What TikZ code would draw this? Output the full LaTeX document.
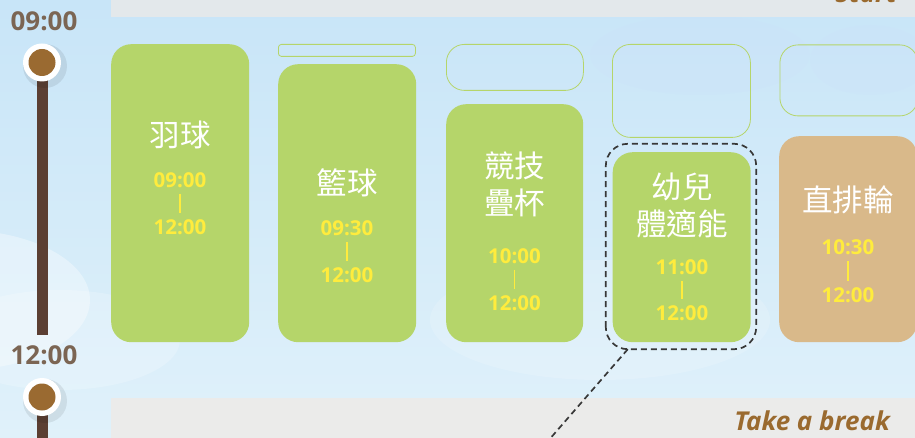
\documentclass[tikz,border=0pt]{standalone}
\usepackage{fontspec}
\setmainfont{Open Sans}
\newfontfamily\cjk{Noto Sans CJK TC}
\usetikzlibrary{calc}
\definecolor{grn}{HTML}{B5D56A}
\definecolor{tan}{HTML}{D9B98A}
\definecolor{tmyel}{HTML}{FFEC3D}
\definecolor{tlbar}{HTML}{5B3F33}
\definecolor{tldot}{HTML}{9A6A31}
\definecolor{tltext}{HTML}{7B6553}
\definecolor{brk}{HTML}{9A6A2F}
\definecolor{skytop}{HTML}{C8E5F8}
\definecolor{skybot}{HTML}{E0F1FA}
\begin{document}
\begin{tikzpicture}[x=1pt,y=-1pt,
  fillbox/.style={fill=grn, draw=none, rounded corners=20pt, inner sep=0pt, minimum width=138pt, anchor=north west},
  outbox/.style={draw=grn, line width=0.8pt, fill=none, rounded corners=18pt, inner sep=0pt, minimum width=137pt, anchor=north west},
  ttl/.style={font=\cjk\fontsize{30.5}{37}\selectfont, text=white, align=center, inner sep=0pt},
  tm/.style={font=\bfseries\fontsize{20.5}{20}\selectfont, text=tmyel, inner xsep=2pt, inner ysep=6pt},
  tbar/.style={draw=tmyel, line width=1.1pt},
  tl/.style={draw=tlbar, line width=11pt},
  dotw/.style={circle, fill=white, minimum size=38pt, inner sep=0pt},
  dotb/.style={circle, fill=tldot, minimum size=27pt, inner sep=0pt},
  tltxt/.style={font=\bfseries\fontsize{26}{26}\selectfont, text=tltext, inner sep=0pt},
  brktxt/.style={font=\bfseries\itshape\fontsize{26}{26}\selectfont, text=brk, inner sep=0pt},
  conn/.style={draw=black!78, line width=1.7pt, dash pattern=on 6pt off 4pt}]
\useasboundingbox (0,0) rectangle (915,438);
% background
\shade[top color=skytop, bottom color=skybot] (0,0) rectangle (915,438);
\begin{scope}
\clip (0,0) rectangle (915,438);
\fill[white, opacity=0.35] (-40,300) ellipse [x radius=130pt, y radius=70pt];
\fill[white, opacity=0.2] (60,340) ellipse [x radius=120pt, y radius=50pt];
\fill[white, opacity=0.15] (600,320) ellipse [x radius=170pt, y radius=60pt];
\fill[white, opacity=0.12] (520,250) ellipse [x radius=60pt, y radius=60pt];
\fill[skytop!85!blue!60, opacity=0.12] (700,55) ellipse [x radius=110pt, y radius=40pt];
\fill[skytop!85!blue!60, opacity=0.1] (870,60) ellipse [x radius=60pt, y radius=35pt];
% bands
\fill[fill={rgb,255:red,227;green,232;blue,235}] (111,0) rectangle (915,16.7);
\fill[fill={rgb,255:red,235;green,235;blue,234}] (111,398) rectangle (915,438);
\node[brktxt, anchor=base east] (start) at (897,3) {Start};
\end{scope}
\node[brktxt, anchor=base east] (brk) at (890,430) {Take a break};
% timeline
\coordinate (p1) at (42,62.5);
\coordinate (p2) at (42,397);
\coordinate (pe) at (42,335);
\coordinate (pb) at (42,440);
\draw[tl] (p1) -- (pe);
\draw[tl] (p2) -- (pb);
\fill[black, opacity=0.08] (45,66) circle (22pt);
\fill[black, opacity=0.08] (45,401) circle (22pt);
\node[dotw] (c1w) at (p1) {};
\node[dotb] (c1) at (p1) {};
\node[dotw] (c2w) at (p2) {};
\node[dotb] (c2) at (p2) {};
\node[tltxt] (l1) at (44,21) {09:00};
\node[tltxt] (l2) at (44,355) {12:00};
% column 1
\node[fillbox, minimum height=298pt] (b1) at (111,44) {};
\node[ttl] (n1) at (180,135) {羽球};
\node[tm] (t1a) at (180,180) {09:00};
\node[tm] (t1b) at (180,227) {12:00};
\draw[tbar] (t1a) -- (t1b);
% column 2
\node[outbox, rounded corners=3pt, minimum height=12pt] (o2) at (278,44) {};
\node[fillbox, minimum height=278pt] (b2) at (278,64) {};
\node[ttl] (n2) at (347,183) {籃球};
\node[tm] (t2a) at (347,228) {09:30};
\node[tm] (t2b) at (347,275) {12:00};
\draw[tbar] (t2a) -- (t2b);
% column 3
\node[outbox, minimum height=46pt] (o3) at (446,44) {};
\node[fillbox, minimum height=238pt, minimum width=137pt] (b3) at (446,104) {};
\node[ttl] (n3) at (514.5,184) {競技\\疊杯};
\node[tm] (t3a) at (514.5,256) {10:00};
\node[tm] (t3b) at (514.5,303) {12:00};
\draw[tbar] (t3a) -- (t3b);
% column 4
\node[outbox, minimum height=93pt, minimum width=138pt] (o4) at (612,44) {};
\node[fillbox, minimum height=190pt] (b4) at (612.5,152) {};
\node[draw=none, fill=none, minimum width=150pt, minimum height=205pt, inner sep=0pt] (d4) at (681,246.5) {};
\draw[conn, rounded corners=22pt] (d4.south west) rectangle (d4.north east);
\node[ttl] (n4) at (682,205) {幼兒\\體適能};
\node[tm] (t4a) at (682,267) {11:00};
\node[tm] (t4b) at (682,313) {12:00};
\draw[tbar] (t4a) -- (t4b);
\coordinate (ce) at (548,441);
\draw[conn] ($(d4.south west)+(22,0)$) -- (ce);
% column 5
\node[outbox, minimum height=71pt, minimum width=138pt] (o5) at (779.5,44.5) {};
\node[fillbox, fill=tan, minimum height=206pt] (b5) at (779,136) {};
\node[ttl] (n5) at (848,200) {直排輪};
\node[tm] (t5a) at (848,247) {10:30};
\node[tm] (t5b) at (848,295) {12:00};
\draw[tbar] (t5a) -- (t5b);
\end{tikzpicture}
\end{document}
